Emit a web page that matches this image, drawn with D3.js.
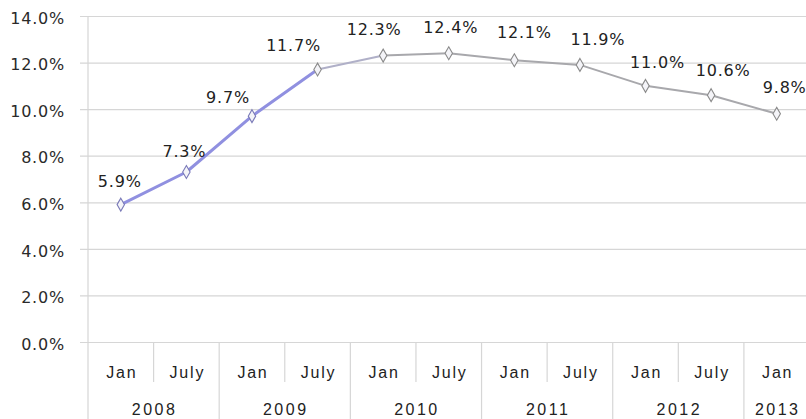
<!DOCTYPE html>
<html>
<head>
<meta charset="utf-8">
<script src="https://cdn.jsdelivr.net/npm/d3@7"></script>
<style>
  html, body { margin: 0; padding: 0; background: #fff; }
  svg { display: block; }
</style>
</head>
<body>
<svg id="chart" width="806" height="419"></svg>
<script>
// Unemployment rate, half-yearly readings
const months = ["Jan", "July", "Jan", "July", "Jan", "July", "Jan", "July", "Jan", "July", "Jan"];
const years = ["2008", "2009", "2010", "2011", "2012", "2013"];
const yearSpans = [2, 2, 2, 2, 2, 1];
const values = [5.9, 7.3, 9.7, 11.7, 12.3, 12.4, 12.1, 11.9, 11.0, 10.6, 9.8];
const yTicks = [0, 2, 4, 6, 8, 10, 12, 14];

// Label nudges (dx, dy) around each point, in pixels
const labelNudge = [[-1, -23], [-2, -21], [-24, -19], [-24, -24], [-9, -26], [2, -26],
                    [10, -28], [18, -26], [12, -24], [12, -25], [8, -27]];

(function () {
const svg = d3.select("#chart");
const W = 806, H = 419;
const plotLeft = 88, plotRight = 809.5, plotTop = 16, plotBottom = 342;

const x = d3.scaleBand().domain(d3.range(values.length)).range([plotLeft, plotRight]).padding(0);
const y = d3.scaleLinear().domain([0, 14]).range([plotBottom, plotTop]);

const numFont = "'DejaVu Sans', Verdana, sans-serif";
const catFont = "'Liberation Sans', Arial, sans-serif";
const gridColor = "#d6d6d6";

// Horizontal gridlines + y axis labels
const yAxis = d3.axisLeft(y).tickValues(yTicks)
  .tickSize(-(W - 80)).tickPadding(0)
  .tickFormat(d => d3.format(".1f")(d) + "%");
const yg = svg.append("g").attr("transform", `translate(${80},0)`).call(yAxis);
yg.select(".domain").remove();
yg.selectAll(".tick line").attr("stroke", gridColor).attr("stroke-width", 1.2);
yg.selectAll(".tick text")
  .attr("x", -15).attr("dy", "0.45em")
  .attr("font-family", numFont).attr("font-size", 16)
  .attr("letter-spacing", "0.8px")
  .attr("fill", "#2a2a2a");

// Vertical axis line
svg.append("line")
  .attr("x1", plotLeft).attr("x2", plotLeft).attr("y1", plotTop).attr("y2", H)
  .attr("stroke", gridColor).attr("stroke-width", 1.2);

// Category dividers below the plot
const yearStarts = [];
let acc = 0;
yearSpans.forEach(s => { yearStarts.push(acc); acc += s; });
d3.range(1, values.length + 1).forEach(i => {
  const xx = i < values.length ? x(i) : plotRight;
  const isYear = yearStarts.includes(i) || i === values.length;
  svg.append("line")
    .attr("x1", xx).attr("x2", xx)
    .attr("y1", plotBottom).attr("y2", isYear ? H : 382)
    .attr("stroke", gridColor).attr("stroke-width", 1.2);
});

// Month labels
svg.append("g").selectAll("text").data(months).join("text")
  .attr("x", (d, i) => x(i) + x.bandwidth() / 2 + 1)
  .attr("y", 378)
  .attr("text-anchor", "middle")
  .attr("font-family", catFont).attr("font-size", 16)
  .attr("letter-spacing", "1.8px")
  .attr("fill", "#222")
  .text(d => d);

// Year labels
svg.append("g").selectAll("text").data(years).join("text")
  .attr("x", (d, i) => {
    const s = yearStarts[i];
    const e = s + yearSpans[i];
    const x0 = x(s), x1 = e < values.length ? x(e) : plotRight;
    return (x0 + x1) / 2 + 1;
  })
  .attr("y", 415)
  .attr("text-anchor", "middle")
  .attr("font-family", catFont).attr("font-size", 16)
  .attr("letter-spacing", "2.5px")
  .attr("fill", "#222")
  .text(d => d);

// Line, drawn as segments so the early rise keeps its blue tint
const cx = i => x(i) + x.bandwidth() / 2;
const segColor = i => i < 3 ? "#9090e0" : (i === 3 ? "#b0b0c8" : "#a8a8ac");
d3.range(values.length - 1).forEach(i => {
  svg.append("path")
    .attr("d", d3.line()([[cx(i), y(values[i])], [cx(i + 1), y(values[i + 1])]]))
    .attr("stroke", segColor(i))
    .attr("stroke-width", i < 3 ? 3 : 2)
    .attr("stroke-linecap", "round")
    .attr("fill", "none");
});

// Point markers
svg.append("g").selectAll("path").data(values).join("path")
  .attr("transform", (d, i) => `translate(${cx(i)},${y(d)})`)
  .attr("d", d3.symbol().type(d3.symbolDiamond).size(48))
  .attr("fill", "#f4f4f8")
  .attr("stroke", (d, i) => i < 3 ? "#7a7ab8" : "#8a8a8a")
  .attr("stroke-width", 1.1);

// Value labels
svg.append("g").selectAll("text").data(values).join("text")
  .attr("x", (d, i) => cx(i) + labelNudge[i][0])
  .attr("y", (d, i) => y(d) + labelNudge[i][1])
  .attr("dy", "0.36em")
  .attr("text-anchor", "middle")
  .attr("font-family", numFont).attr("font-size", 16)
  .attr("letter-spacing", "0.8px")
  .attr("fill", "#222")
  .text(d => d3.format(".1f")(d) + "%");
})();
</script>
</body>
</html>
